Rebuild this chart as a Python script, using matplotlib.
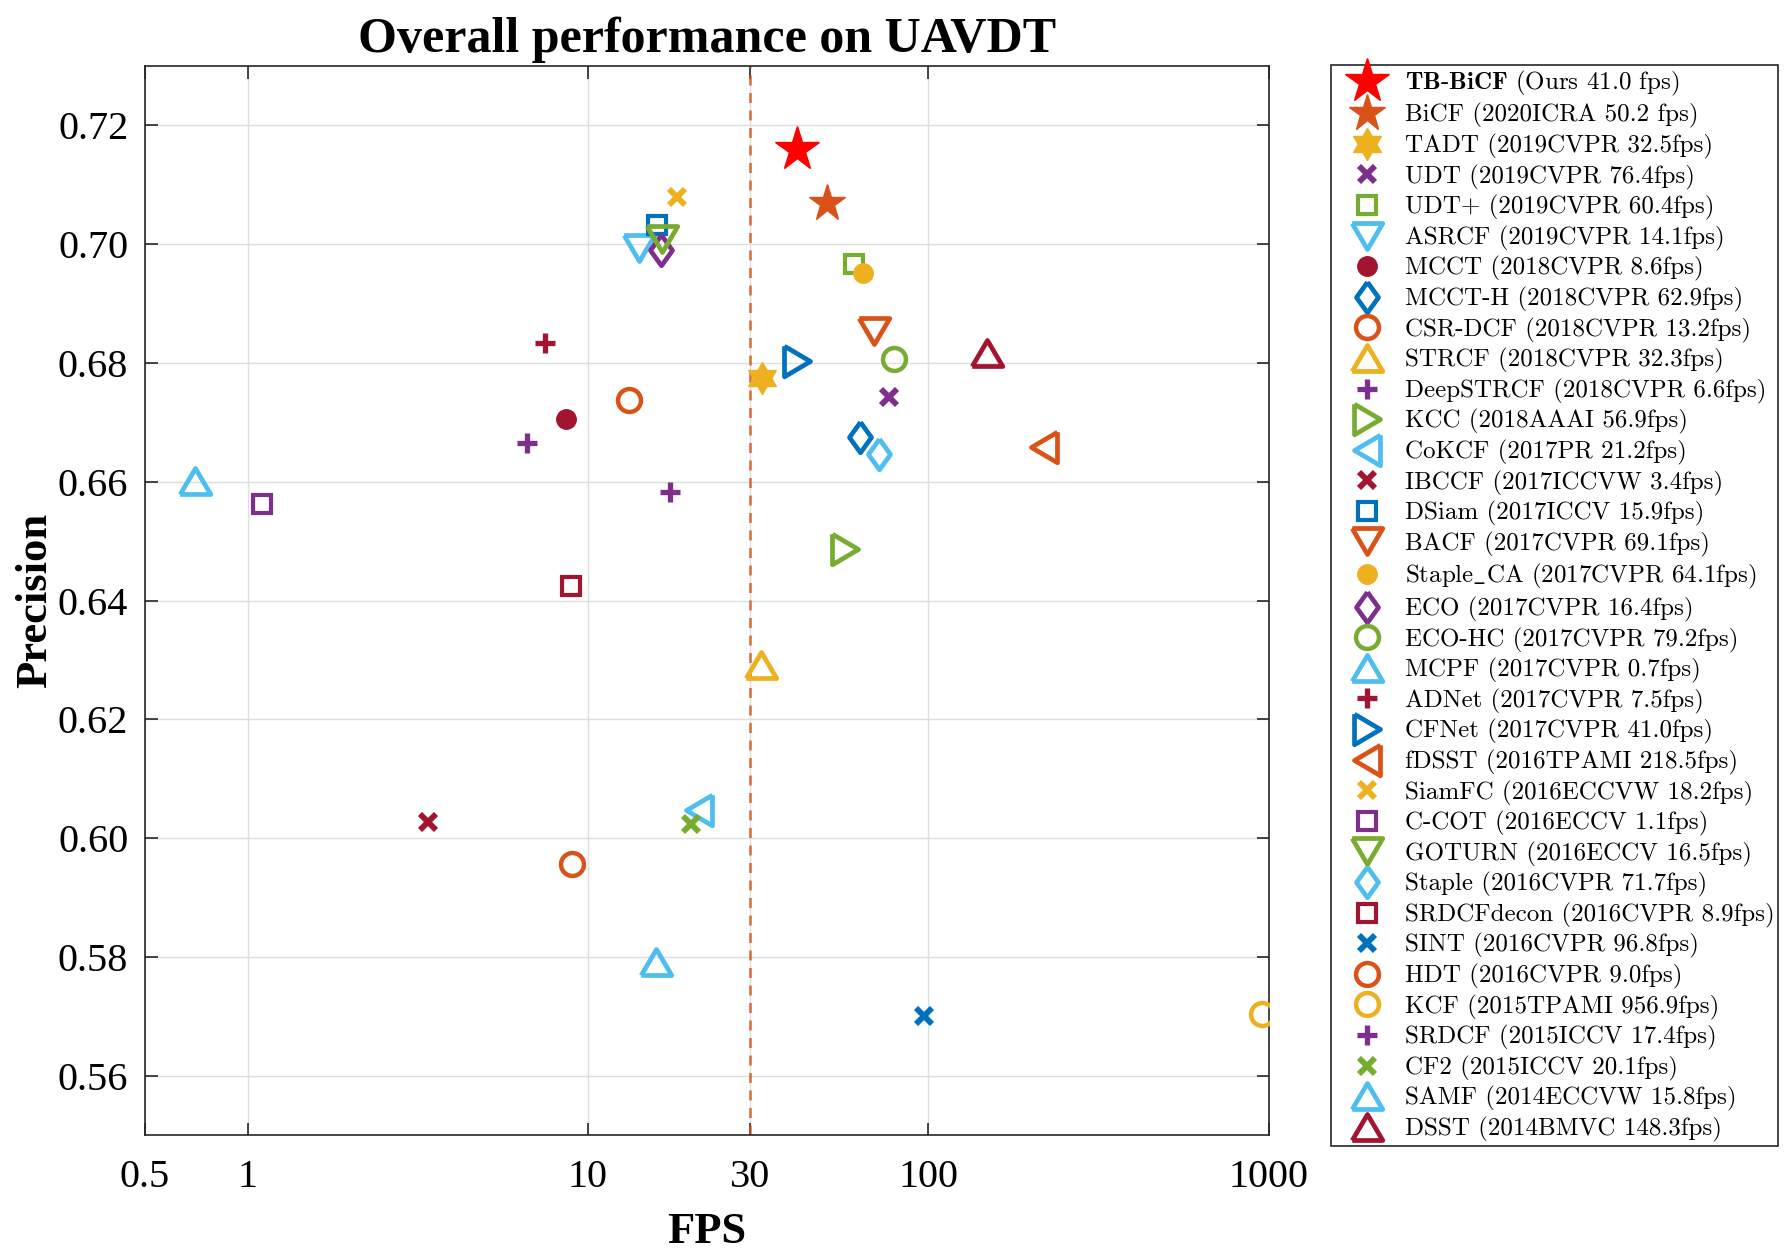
import math
import matplotlib
matplotlib.use('Agg')
import matplotlib.pyplot as plt
from matplotlib.ticker import FixedLocator, NullLocator

plt.rcParams['mathtext.fontset'] = 'cm'

# Trackers: name, venue/fps text, fps, precision
names = ['TB-BiCF', 'BiCF', 'TADT', 'UDT', 'UDT+', 'ASRCF', 'MCCT', 'MCCT-H',
         'CSR-DCF', 'STRCF', 'DeepSTRCF', 'KCC', 'CoKCF', 'IBCCF', 'DSiam', 'BACF',
         'Staple_CA', 'ECO', 'ECO-HC', 'MCPF', 'ADNet', 'CFNet', 'fDSST', 'SiamFC',
         'C-COT', 'GOTURN', 'Staple', 'SRDCFdecon', 'SINT', 'HDT', 'KCF', 'SRDCF',
         'CF2', 'SAMF', 'DSST']
venues = ['Ours 41.0 fps', '2020ICRA 50.2 fps', '2019CVPR 32.5fps', '2019CVPR 76.4fps',
          '2019CVPR 60.4fps', '2019CVPR 14.1fps', '2018CVPR 8.6fps', '2018CVPR 62.9fps',
          '2018CVPR 13.2fps', '2018CVPR 32.3fps', '2018CVPR 6.6fps', '2018AAAI 56.9fps',
          '2017PR 21.2fps', '2017ICCVW 3.4fps', '2017ICCV 15.9fps', '2017CVPR 69.1fps',
          '2017CVPR 64.1fps', '2017CVPR 16.4fps', '2017CVPR 79.2fps', '2017CVPR 0.7fps',
          '2017CVPR 7.5fps', '2017CVPR 41.0fps', '2016TPAMI 218.5fps', '2016ECCVW 18.2fps',
          '2016ECCV 1.1fps', '2016ECCV 16.5fps', '2016CVPR 71.7fps', '2016CVPR 8.9fps',
          '2016CVPR 96.8fps', '2016CVPR 9.0fps', '2015TPAMI 956.9fps', '2015ICCV 17.4fps',
          '2015ICCV 20.1fps', '2014ECCVW 15.8fps', '2014BMVC 148.3fps']
fps = [41.0, 50.2, 32.5, 76.4, 60.4, 14.1, 8.6, 62.9, 13.2, 32.3, 6.6, 56.9, 21.2, 3.4,
       15.9, 69.1, 64.1, 16.4, 79.2, 0.7, 7.5, 41.0, 218.5, 18.2, 1.1, 16.5, 71.7, 8.9,
       96.8, 9.0, 956.9, 17.4, 20.1, 15.8, 148.3]
precision = [0.716, 0.707, 0.6775, 0.6742, 0.6966, 0.6993, 0.6705, 0.6675, 0.6737, 0.6292,
             0.6666, 0.6487, 0.6047, 0.6027, 0.7033, 0.6853, 0.6952, 0.6991, 0.6806, 0.6602,
             0.6834, 0.6803, 0.6658, 0.708, 0.6563, 0.7008, 0.6646, 0.6425, 0.5701, 0.5957,
             0.5704, 0.6582, 0.6024, 0.5792, 0.6817]

# MATLAB default colours
C_BLUE, C_ORANGE, C_YELLOW = '#0072BD', '#D95319', '#EDB120'
C_PURPLE, C_GREEN, C_LBLUE, C_DRED = '#7E2F8E', '#77AC30', '#4DBEEE', '#A2142F'

# marker shapes (MATLAB-like proportions)
tri_down = [(-1, 0.85), (1, 0.85), (0, -0.85), (-1, 0.85)]
tri_up = [(-1, -0.85), (1, -0.85), (0, 0.85), (-1, -0.85)]
tri_right = [(-0.85, 1), (-0.85, -1), (0.85, 0), (-0.85, 1)]
tri_left = [(0.85, 1), (0.85, -1), (-0.85, 0), (0.85, 1)]
diamond = [(0, 1), (0.72, 0), (0, -1), (-0.72, 0), (0, 1)]
hexagram = []
for k in range(13):
    r = 1.0 if k % 2 == 0 else 1 / math.sqrt(3)
    a = math.pi / 2 + k * math.pi / 6
    hexagram.append((r * math.cos(a), r * math.sin(a)))

# style per tracker: marker, colour, size, filled
styles = [
    ('*', 'red', 33, True), ('*', C_ORANGE, 28, True), (hexagram, C_YELLOW, 23, True),
    ('x', C_PURPLE, 11, False), ('s', C_GREEN, 12.5, False), (tri_down, C_LBLUE, 22, False),
    ('o', C_DRED, 14, True), (diamond, C_BLUE, 22, False), ('o', C_ORANGE, 16.5, False),
    (tri_up, C_YELLOW, 22, False), ('+', C_PURPLE, 15, False), (tri_right, C_GREEN, 22, False),
    (tri_left, C_LBLUE, 22, False), ('x', C_DRED, 11, False), ('s', C_BLUE, 12.5, False),
    (tri_down, C_ORANGE, 22, False), ('o', C_YELLOW, 14, True), (diamond, C_PURPLE, 22, False),
    ('o', C_GREEN, 16.5, False), (tri_up, C_LBLUE, 22, False), ('+', C_DRED, 15, False),
    (tri_right, C_BLUE, 22, False), (tri_left, C_ORANGE, 22, False), ('x', C_YELLOW, 11, False),
    ('s', C_PURPLE, 12.5, False), (tri_down, C_GREEN, 22, False), (diamond, C_LBLUE, 22, False),
    ('s', C_DRED, 12.5, False), ('x', C_BLUE, 11, False), ('o', C_ORANGE, 16.5, False),
    ('o', C_YELLOW, 16.5, False), ('+', C_PURPLE, 15, False), ('x', C_GREEN, 11, False),
    (tri_up, C_LBLUE, 22, False), (tri_up, C_DRED, 22, False),
]

xticks = [0.5, 1, 10, 30, 100, 1000]
xticklabels = ['0.5', '1', '10', '30', '100', '1000']
yticks = [0.56, 0.58, 0.60, 0.62, 0.64, 0.66, 0.68, 0.70, 0.72]

serif = 'Liberation Serif'

fig = plt.figure(figsize=(17.88, 12.53), dpi=100)
ax = fig.add_axes([0.0811, 0.0942, 0.6286, 0.8531])


def edge_width(m):
    if m == 'x':
        return 4.2
    if m == '+':
        return 3.8
    if m == 's':
        return 3.0
    if m == 'o':
        return 3.2
    return 3.4


handles = []
for i in range(len(names)):
    m, c, s, filled = styles[i]
    if filled:
        h, = ax.plot(fps[i], precision[i], linestyle='none', marker=m, markersize=s,
                     color=c, markeredgecolor=c, markeredgewidth=1.0, zorder=3)
    else:
        h, = ax.plot(fps[i], precision[i], linestyle='none', marker=m, markersize=s,
                     color=c, markerfacecolor='none', markeredgecolor=c,
                     markeredgewidth=edge_width(m), zorder=3)
    handles.append(h)

ax.axvline(30, color=C_ORANGE, linestyle=(0, (4, 3)), linewidth=1.8, alpha=0.85, zorder=2)

ax.set_xscale('log')
ax.set_xlim(0.5, 1000)
ax.set_ylim(0.55, 0.73)
ax.xaxis.set_major_locator(FixedLocator(xticks))
ax.xaxis.set_minor_locator(NullLocator())
ax.set_xticklabels(xticklabels)
ax.set_yticks(yticks)
ax.set_yticklabels(['%.2f' % v for v in yticks])
ax.grid(True, color='#dedede', linewidth=1.0, zorder=0)
ax.set_axisbelow(True)
ax.tick_params(direction='in', length=9, width=1.2, top=True, right=True,
               labelsize=29, colors='#262626', labelcolor='black')
ax.tick_params(axis='x', pad=17)
ax.tick_params(axis='y', pad=12)
for lab in ax.get_xticklabels() + ax.get_yticklabels():
    lab.set_fontfamily(serif)
for sp in ax.spines.values():
    sp.set_linewidth(1.2)
    sp.set_color('#262626')

ax.set_xlabel('FPS', fontsize=32, fontweight='bold', fontfamily=serif, labelpad=12)
ax.set_ylabel('Precision', fontsize=32, fontweight='bold', fontfamily=serif, labelpad=2)
ax.set_title('Overall performance on UAVDT', fontsize=36, fontweight='bold',
             fontfamily=serif, pad=10)

labels = []
for n, v in zip(names, venues):
    if n == 'TB-BiCF':
        labels.append(r'$\mathbf{TB}$-$\mathbf{BiCF}$ (' + v + ')')
    elif n == 'Staple_CA':
        labels.append(r'Staple$\_$CA (' + v + ')')
    else:
        labels.append(n + ' (' + v + ')')

leg = fig.legend(handles, labels, loc='upper left', bbox_to_anchor=(0.7444, 0.9481),
                 borderaxespad=0, prop={'family': 'cmr10', 'size': 18},
                 handlelength=2.6, handletextpad=0.2, borderpad=0.15, labelspacing=0.22,
                 fancybox=False, framealpha=1, edgecolor='#262626')
leg.get_frame().set_linewidth(1.2)

fig.savefig('out.png', dpi=100)
